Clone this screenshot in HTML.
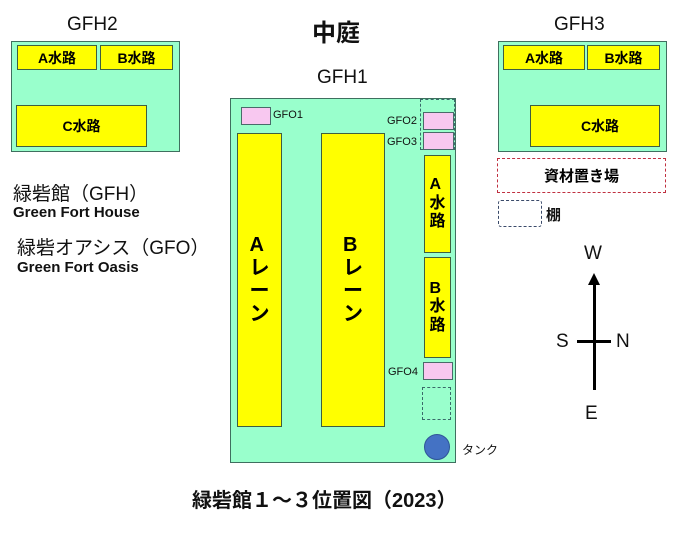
<!DOCTYPE html><html><head><meta charset="utf-8"><style>
body{margin:0;width:679px;height:533px;background:#fff;position:relative;overflow:hidden;font-family:"Liberation Sans","Noto Sans CJK JP",sans-serif;}
div{position:absolute;box-sizing:border-box;}
.g{background:#99ffcc;border:1px solid #3f6f5f;}
.y{background:#ffff00;border:1px solid #3f5f3f;display:flex;align-items:center;justify-content:center;font-weight:bold;font-size:14px;color:#000;}
.p{background:#f8c8f0;border:1px solid #4a6a6a;}
.t{white-space:nowrap;font-weight:bold;color:#111;}
.v{flex-direction:column;line-height:1.15;font-size:16px;}
</style></head><body>
<div class="t" style="left:312px;top:13px;font-size:24px">中庭</div>
<div class="t" style="left:67px;top:14px;font-size:19px;font-weight:normal">GFH2</div>
<div class="t" style="left:317px;top:67px;font-size:19px;font-weight:normal">GFH1</div>
<div class="t" style="left:554px;top:14px;font-size:19px;font-weight:normal">GFH3</div>

<div class="g" style="left:11px;top:41px;width:169px;height:111px"></div>
<div class="y" style="left:17px;top:45px;width:80px;height:25px">A水路</div>
<div class="y" style="left:100px;top:45px;width:73px;height:25px">B水路</div>
<div class="y" style="left:16px;top:105px;width:131px;height:42px">C水路</div>

<div class="g" style="left:498px;top:41px;width:169px;height:111px"></div>
<div class="y" style="left:503px;top:45px;width:82px;height:25px">A水路</div>
<div class="y" style="left:587px;top:45px;width:73px;height:25px">B水路</div>
<div class="y" style="left:530px;top:105px;width:130px;height:42px;padding-left:10px">C水路</div>
<div style="left:497px;top:158px;width:169px;height:35px;border:1.5px dashed #c03040;display:flex;align-items:center;justify-content:center;font-size:15px;font-weight:bold">資材置き場</div>
<div style="left:498px;top:200px;width:44px;height:27px;border:1.5px dashed #3a4a6a;border-radius:3px"></div>
<div class="t" style="left:546px;top:204px;font-size:15px">棚</div>

<div class="t" style="left:13px;top:179px;font-size:19px;font-weight:normal">緑砦館（GFH）</div>
<div class="t" style="left:13px;top:204px;font-size:15px">Green Fort House</div>
<div class="t" style="left:17px;top:233px;font-size:19px;font-weight:normal">緑砦オアシス（GFO）</div>
<div class="t" style="left:17px;top:259px;font-size:15px">Green Fort Oasis</div>

<div class="g" style="left:230px;top:98px;width:226px;height:365px"></div>
<div class="p" style="left:241px;top:107px;width:30px;height:18px"></div>
<div class="t" style="left:273px;top:109px;font-size:11px;font-weight:normal">GFO1</div>
<div class="y v" style="left:237px;top:133px;width:45px;height:294px;font-size:20px">A<br>レ<br>ー<br>ン</div>
<div class="y v" style="left:321px;top:133px;width:64px;height:294px;font-size:20px">B<br>レ<br>ー<br>ン</div>
<div style="left:420px;top:99px;width:35px;height:51px;border:1.5px dashed #3a6a6a"></div>
<div class="p" style="left:423px;top:112px;width:31px;height:18px"></div>
<div class="p" style="left:423px;top:132px;width:31px;height:18px"></div>
<div class="t" style="left:387px;top:115px;font-size:11px;font-weight:normal">GFO2</div>
<div class="t" style="left:387px;top:136px;font-size:11px;font-weight:normal">GFO3</div>
<div class="y v" style="left:424px;top:155px;width:27px;height:98px">A<br>水<br>路</div>
<div class="y v" style="left:424px;top:257px;width:27px;height:101px">B<br>水<br>路</div>
<div class="p" style="left:423px;top:362px;width:30px;height:18px"></div>
<div class="t" style="left:388px;top:366px;font-size:11px;font-weight:normal">GFO4</div>
<div style="left:422px;top:387px;width:29px;height:33px;border:1.5px dashed #3a6a6a"></div>
<div style="left:424px;top:434px;width:26px;height:26px;border-radius:50%;background:#4472c4;border:1px solid #2f5597"></div>
<div class="t" style="left:462px;top:441px;font-size:12px;font-weight:normal">タンク</div>

<div style="left:593px;top:283px;width:2.5px;height:107px;background:#000"></div>
<div style="left:588px;top:273px;width:0;height:0;border-left:6px solid transparent;border-right:6px solid transparent;border-bottom:12px solid #000"></div>
<div style="left:577px;top:340px;width:34px;height:2.5px;background:#000"></div>
<div class="t" style="left:584px;top:243px;font-size:19px;font-weight:normal">W</div>
<div class="t" style="left:556px;top:331px;font-size:19px;font-weight:normal">S</div>
<div class="t" style="left:616px;top:331px;font-size:19px;font-weight:normal">N</div>
<div class="t" style="left:585px;top:403px;font-size:19px;font-weight:normal">E</div>

<div class="t" style="left:192px;top:484px;font-size:20px">緑砦館１～３位置図（2023）</div>
</body></html>
